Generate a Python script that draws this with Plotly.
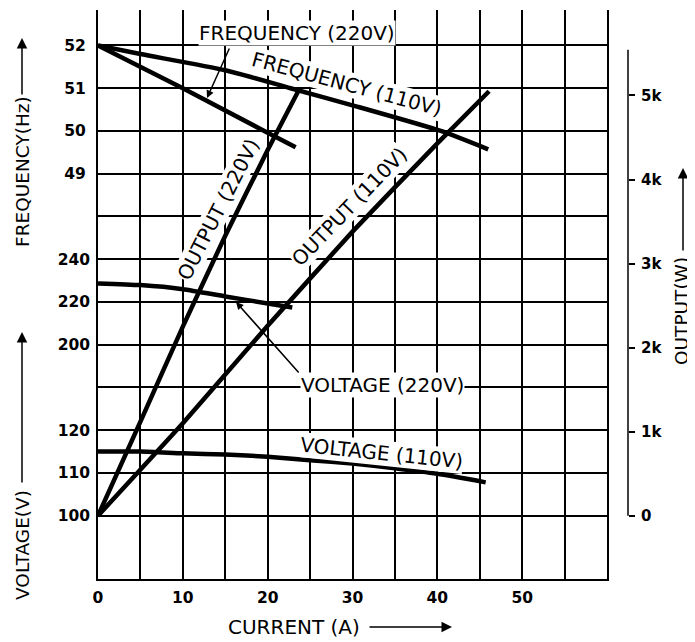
import plotly.graph_objects as go

# ---------------- data ----------------
current_f220 = [0, 10, 19.6, 23.3]
freq_220 = [52, 51.0, 50.0, 49.62]

current_f110 = [0, 5, 15, 22.7, 30, 40.4, 46]
freq_110 = [52, 51.8, 51.42, 51.0, 50.6, 50.0, 49.57]

current_o220 = [0, 5, 10, 15, 20, 23.6]
output_220 = [0, 1120, 2250, 3330, 4350, 5050]

current_o110 = [0, 10, 20, 30, 40, 46.1]
output_110 = [0, 1100, 2260, 3380, 4430, 5050]

current_v220 = [0, 5, 10, 15, 20, 22.9]
volt_220 = [228.7, 227.9, 226.0, 222.6, 219.3, 217.4]

current_v110 = [0, 5, 10, 15, 20, 25, 30, 35, 40, 45.7]
volt_110 = [115, 115, 114.6, 114.3, 113.8, 113.0, 112.2, 111.1, 109.8, 107.8]

current_ticks = [0, 10, 20, 30, 40, 50]
freq_ticks = [49, 50, 51, 52]
volt_hi_ticks = [200, 220, 240]
volt_lo_ticks = [100, 110, 120]
output_ticks = [0, 1000, 2000, 3000, 4000, 5000]
output_tick_text = ["0", "1k", "2k", "3k", "4k", "5k"]

# ---------------- chart grid (rows of the printed chart) ----------------
G_LO, G_HI = -1.48, 11.83
W_PER_ROW = 508.6


def g2f(g):
    return g + 41.0


def g2v_hi(g):
    return 120.0 + 20.0 * g


def g2v_lo(g):
    return 100.0 + 10.0 * g


def g2w(g):
    return g * W_PER_ROW


# page has an 8px body margin; layout given in window pixels
OFF = 8
L, R, T, B = 98 - OFF, 63, 10 - OFF, 642 - (579 - OFF)
PW, PH = 695 - L - R, 642 - T - B


def P(x, y):
    return (x - OFF - L) / PW, (642 - B - (y - OFF)) / PH


BLK = "black"
FONT = "DejaVu Sans"
TICKFONT = dict(family=FONT, size=15.5, color=BLK, weight="bold")
LBL = dict(family=FONT, size=20, color=BLK)
TTL = dict(family=FONT, size=18.5, color=BLK)

fig = go.Figure()
fig.add_trace(go.Scatter(x=current_f220, y=freq_220, yaxis="y", mode="lines",
                         line=dict(color=BLK, width=4.5)))
fig.add_trace(go.Scatter(x=current_f110, y=freq_110, yaxis="y", mode="lines",
                         line=dict(color=BLK, width=4.5, shape="spline", smoothing=0.6)))
fig.add_trace(go.Scatter(x=current_v220, y=volt_220, yaxis="y2", mode="lines",
                         line=dict(color=BLK, width=4.5, shape="spline", smoothing=0.6)))
fig.add_trace(go.Scatter(x=current_v110, y=volt_110, yaxis="y3", mode="lines",
                         line=dict(color=BLK, width=4.5, shape="spline", smoothing=0.6)))
fig.add_trace(go.Scatter(x=current_o220, y=output_220, yaxis="y4", mode="lines",
                         line=dict(color=BLK, width=4.5, shape="spline", smoothing=0.4)))
fig.add_trace(go.Scatter(x=current_o110, y=output_110, yaxis="y4", mode="lines",
                         line=dict(color=BLK, width=4.5, shape="spline", smoothing=0.4)))

x_grid = list(range(0, 65, 5))
x_text = [str(v) if v in current_ticks else "" for v in x_grid]

f_grid = list(range(41, 53))
f_text = [str(v) if v in freq_ticks else "" for v in f_grid]

left_axis = dict(overlaying="y", showgrid=False, zeroline=False, showline=False,
                 ticks="", tickfont=TICKFONT, ticklabelstandoff=7,
                 automargin=False, fixedrange=True)

fig.update_layout(
    template="none",
    width=695, height=642,
    margin=dict(l=L, r=R, t=T, b=B, autoexpand=False),
    paper_bgcolor="white", plot_bgcolor="white",
    showlegend=False,
    font=dict(family=FONT, color=BLK),
    xaxis=dict(domain=[0, 509 / PW], range=[0, 60], tickvals=x_grid, ticktext=x_text,
               showgrid=True, gridcolor=BLK, gridwidth=2, showline=True,
               linecolor=BLK, linewidth=2, ticks="", zeroline=False,
               tickfont=TICKFONT, ticklabelstandoff=3, automargin=False, fixedrange=True),
    yaxis=dict(range=[g2f(G_LO), g2f(G_HI)], tickvals=f_grid, ticktext=f_text,
               showgrid=True, gridcolor=BLK, gridwidth=2, showline=True, mirror=True,
               linecolor=BLK, linewidth=2, zeroline=False, ticks="",
               tickfont=TICKFONT, ticklabelstandoff=7,
               automargin=False, fixedrange=True),
    yaxis2=dict(left_axis, range=[g2v_hi(G_LO), g2v_hi(G_HI)], tickvals=volt_hi_ticks),
    yaxis3=dict(left_axis, range=[g2v_lo(G_LO), g2v_lo(G_HI)], tickvals=volt_lo_ticks),
    yaxis4=dict(overlaying="y", side="right", anchor="free", position=P(628, 0)[0],
                range=[g2w(G_LO), g2w(G_HI)], tickvals=output_ticks, ticktext=output_tick_text,
                showgrid=False, zeroline=False, showline=False, ticks="outside",
                ticklen=6, tickwidth=1.5, tickcolor=BLK, tickfont=dict(TICKFONT, size=15),
                ticklabelstandoff=3, automargin=False, fixedrange=True),
)

# right-hand output scale line
fig.add_shape(type="line", xref="paper", yref="y4", x0=P(628, 0)[0], x1=P(628, 0)[0],
              y0=0, y1=5545, line=dict(color=BLK, width=1.5))

ann = []


def label(text, x, y, angle=0, bg="white", font=LBL):
    px, py = P(x, y)
    ann.append(dict(text=text, xref="paper", yref="paper", x=px, y=py, showarrow=False,
                    textangle=angle, font=font, bgcolor=bg, borderpad=0,
                    xanchor="center", yanchor="middle"))


def arrow(x_tail, y_tail, x_head, y_head, width=1.5, head=2, size=1.0):
    px, py = P(x_head, y_head)
    ann.append(dict(text="", xref="paper", yref="paper", x=px, y=py,
                    ax=x_tail - x_head, ay=y_tail - y_head, showarrow=True,
                    arrowhead=head, arrowsize=size, arrowwidth=width, arrowcolor=BLK,
                    standoff=0, startstandoff=0))


# curve labels
label("FREQUENCY (220V)", 297, 33)
arrow(230, 47, 207, 98)
label("FREQUENCY (110V)", 347, 84, 15)
label("OUTPUT (220V)", 218, 210, -63)
label("OUTPUT (110V)", 349, 207, -46)
label("VOLTAGE (220V)", 382, 385)
arrow(300, 374, 236, 302)
label("VOLTAGE (110V)", 381, 453, 6)

# axis titles
NOBG = "rgba(0,0,0,0)"
label("FREQUENCY(Hz)", 22, 172, -90, bg=NOBG, font=TTL)
arrow(22, 96, 22, 38, width=1.5, head=2, size=1.4)
label("VOLTAGE(V)", 22, 545, -90, bg=NOBG, font=TTL)
arrow(22, 484, 22, 332, width=1.5, head=2, size=1.4)
label("OUTPUT(W)", 681, 311, -90, bg=NOBG, font=TTL)
arrow(683, 252, 683, 168, width=1.5, head=2, size=1.4)
label("CURRENT (A)", 294, 627, 0, bg=NOBG, font=LBL)
arrow(368, 627, 452, 627, width=1.5, head=2, size=1.4)

fig.update_layout(annotations=ann)

fig.write_html("out.html", config={"displayModeBar": False})
